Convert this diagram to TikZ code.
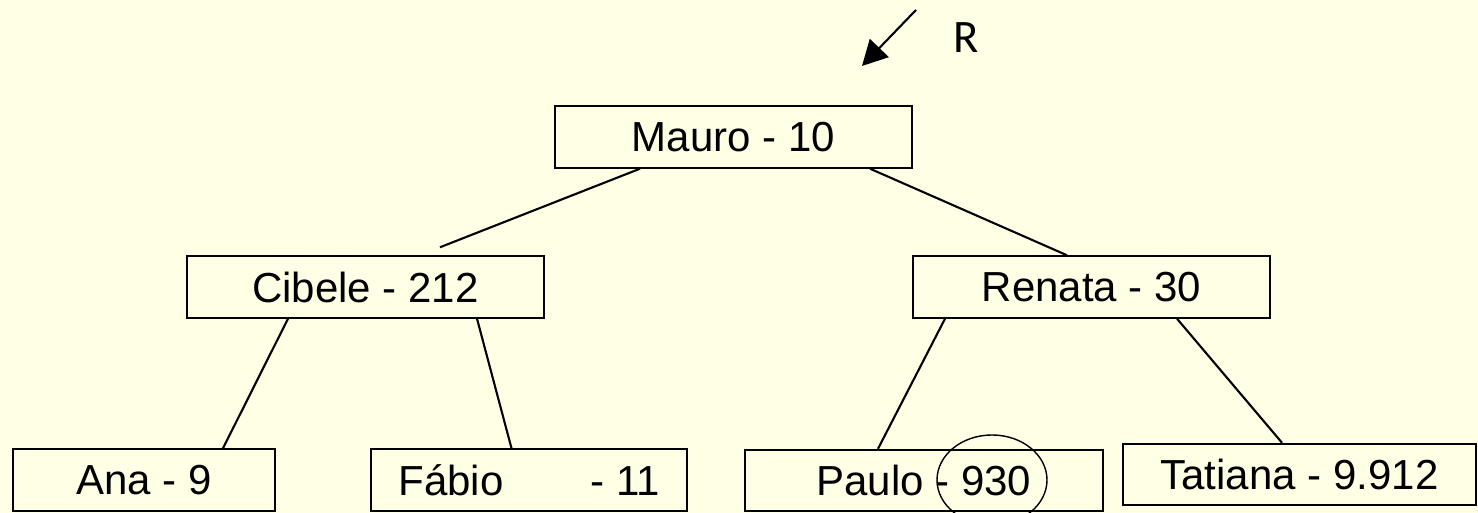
\documentclass[tikz,border=0pt]{standalone}
\usepackage{fontspec}
\setmainfont{Liberation Sans}
\newfontfamily\rfont{Carlito}
\usepackage{xcolor}
\usetikzlibrary{arrows.meta}
\definecolor{fundo}{RGB}{255,255,230}
\tikzset{
  caixa/.style={draw=black,line width=1.1pt,minimum height=1.23cm,inner sep=0pt,
    font=\fontsize{23.9}{28}\selectfont},
  ramo/.style={line width=1.2pt}
}

\begin{document}
\begin{tikzpicture}
    \fill[fundo] (0,0) rectangle (29.56,10.26);
    \clip (0,0) rectangle (29.56,10.26);
    \node[caixa,minimum width=7.14cm] (mauro) at (14.67,7.52) {Mauro - 10};
    \node[caixa,minimum width=7.14cm] (cibele) at (7.31,4.52) {Cibele - 212};
    \node[caixa,minimum width=7.14cm] (renata) at (21.83,4.52) {Renata - 30};
    \node[caixa,minimum width=5.24cm] (ana) at (2.88,0.66) {Ana - 9};
    \node[caixa,minimum width=6.32cm] (fabio) at (10.58,0.66) {Fábio\hspace{1.74cm}- 11};
    \node[caixa,minimum width=7.16cm] (paulo) at (18.48,0.65) {Paulo - 930};
    \node[caixa,minimum width=7.06cm] (tatiana) at (25.99,0.77) {Tatiana - 9.912};
    \draw[ramo] ([xshift=-1.87cm]mauro.south) -- ([xshift=1.49cm,yshift=0.16cm]cibele.north);
    \draw[ramo] ([xshift=2.73cm]mauro.south) -- ([xshift=-0.49cm]renata.north);
    \draw[ramo] ([xshift=-1.55cm]cibele.south) -- ([xshift=1.58cm]ana.north);
    \draw[ramo] ([xshift=2.23cm]cibele.south) -- ([xshift=-0.35cm]fabio.north);
    \draw[ramo] ([xshift=-2.93cm]renata.south) -- ([xshift=-0.92cm]paulo.north);
    \draw[ramo] ([xshift=1.71cm]renata.south) -- ([xshift=-0.35cm]tatiana.north);
    \draw[line width=0.8pt] (19.84,0.66) ellipse [x radius=1.1cm,y radius=0.9cm];
    \coordinate (rcauda) at (18.32,10.06);
    \coordinate (rponta) at (17.24,8.94);
    \draw[line width=1.2pt,-{Triangle[length=0.5cm,width=0.52cm]}] (rcauda) -- (rponta);
    \node[font=\rfont\fontsize{26.5}{30}\selectfont] (rotulo) at (19.32,9.5) {R};
\end{tikzpicture}
\end{document}
